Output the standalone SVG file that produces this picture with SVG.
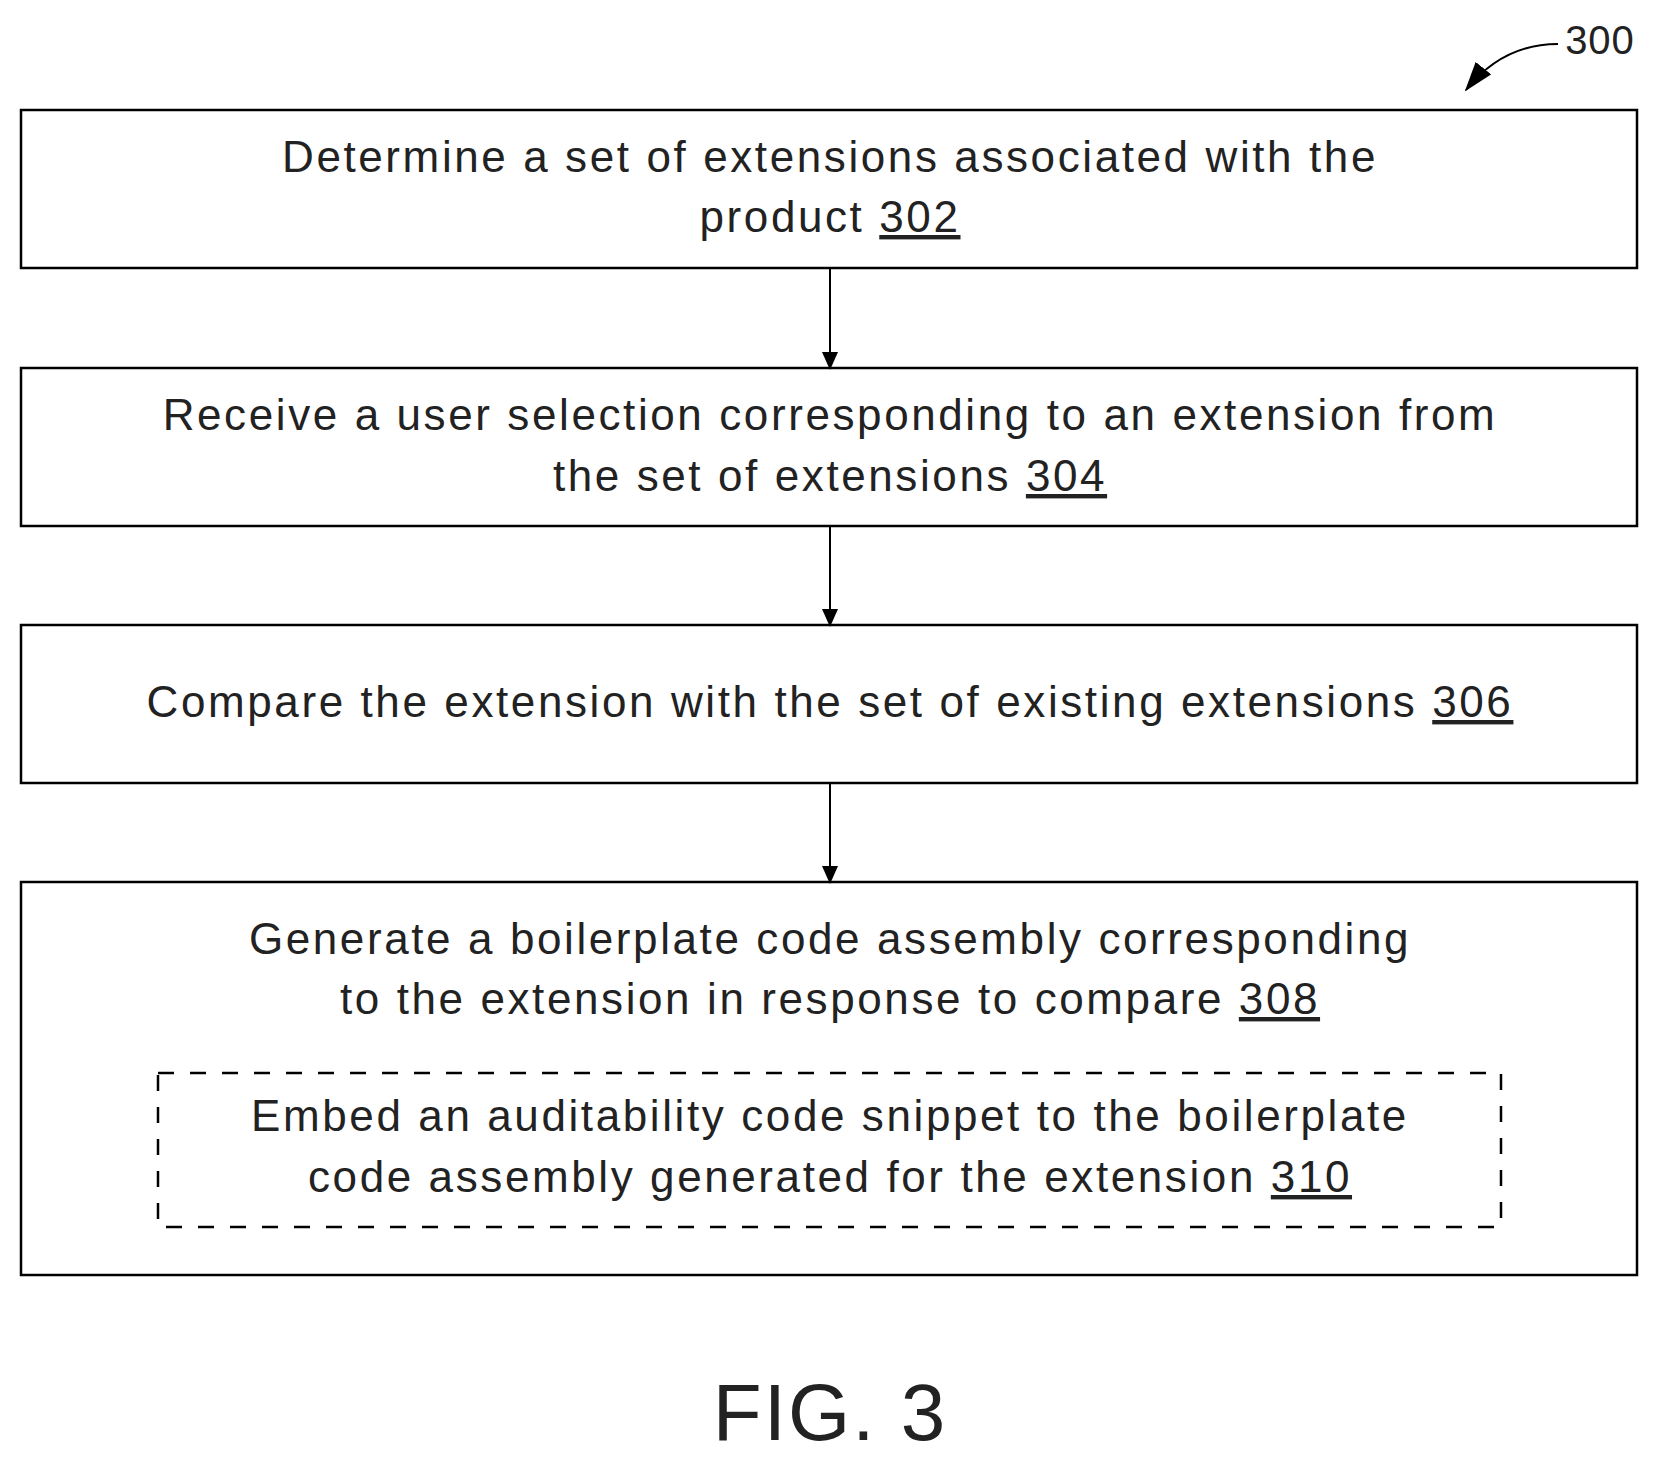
<svg xmlns="http://www.w3.org/2000/svg" width="1661" height="1462" viewBox="0 0 1661 1462">
<style>
.box{fill:#fff;stroke:#000;stroke-width:2.5}
.dash{fill:none;stroke:#000;stroke-width:2.5;stroke-dasharray:16 16}
text{font-family:"Liberation Sans",Arial,sans-serif;font-size:44px;fill:#222;text-anchor:middle;letter-spacing:2.6px}
.n{text-decoration:underline}
.c{stroke:#000;stroke-width:2;fill:none}
</style>
<defs><marker id="ah" markerWidth="18" markerHeight="16" refX="16" refY="8" orient="auto" markerUnits="userSpaceOnUse" viewBox="0 0 18 16"><path d="M0,0 L18,8 L0,16 z" fill="#000"/></marker>
<marker id="ah2" markerWidth="30" markerHeight="20" refX="28" refY="10" orient="auto" markerUnits="userSpaceOnUse" viewBox="0 0 30 20"><path d="M0,0 L30,10 L0,20 z" fill="#000"/></marker></defs>
<g id="label300"><text x="1600" y="54" style="font-size:40px;letter-spacing:1px">300</text><path class="c" d="M1558,44 C1520,44 1490,60 1466,90" marker-end="url(#ah2)"/></g>
<g id="n302"><rect class="box" x="21" y="110" width="1616" height="158"/><text x="830" y="172">Determine a set of extensions associated with the</text><text x="830" y="232">product <tspan class="n">302</tspan></text></g>
<g id="n304"><rect class="box" x="21" y="368" width="1616" height="158"/><text x="830" y="430">Receive a user selection corresponding to an extension from</text><text x="830" y="491">the set of extensions <tspan class="n">304</tspan></text></g>
<g id="n306"><rect class="box" x="21" y="625" width="1616" height="158"/><text x="830" y="717">Compare the extension with the set of existing extensions <tspan class="n">306</tspan></text></g>
<g id="n308"><rect class="box" x="21" y="882" width="1616" height="393"/><text x="830" y="954">Generate a boilerplate code assembly corresponding</text><text x="830" y="1014">to the extension in response to compare <tspan class="n">308</tspan></text></g>
<g id="n310"><rect class="dash" x="158" y="1073" width="1343" height="154"/><text x="830" y="1131">Embed an auditability code snippet to the boilerplate</text><text x="830" y="1192">code assembly generated for the extension <tspan class="n">310</tspan></text></g>
<g id="connectors"><line class="c" x1="830" y1="268" x2="830" y2="368" marker-end="url(#ah)"/><line class="c" x1="830" y1="526" x2="830" y2="625" marker-end="url(#ah)"/><line class="c" x1="830" y1="783" x2="830" y2="882" marker-end="url(#ah)"/></g>
<text x="830" y="1440" style="font-size:80px;letter-spacing:2px">FIG. 3</text>
</svg>
